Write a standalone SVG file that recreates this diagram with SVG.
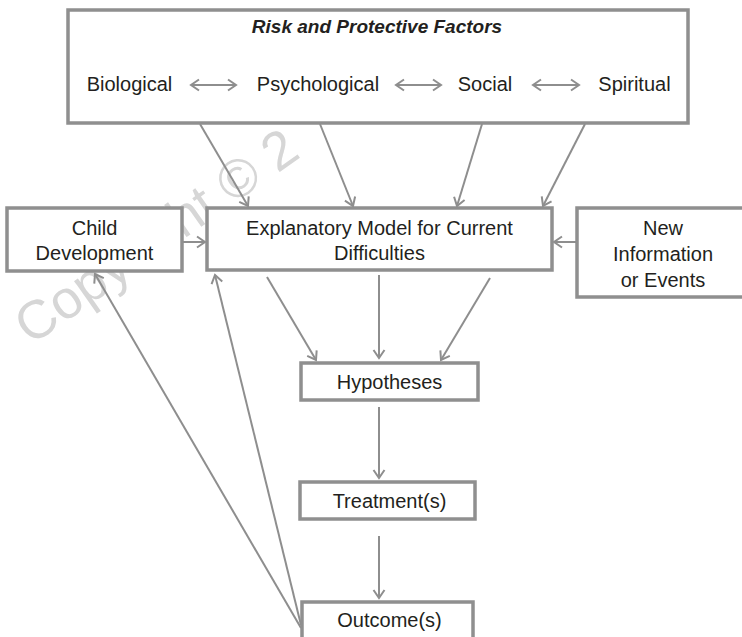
<svg xmlns="http://www.w3.org/2000/svg" width="742" height="637" viewBox="0 0 742 637">
  <defs>
    <marker id="ah" markerUnits="userSpaceOnUse" markerWidth="12" markerHeight="14" refX="9" refY="6" orient="auto-start-reverse" overflow="visible">
      <path d="M1,0.5 L9,6 L1,11.5" fill="none" stroke="#8e8e8e" stroke-width="2"/>
    </marker>
    <style>
      .box { fill: #ffffff; stroke: #8f8f8f; stroke-width: 3.5; }
      .lbl { font-family: "Liberation Sans", Arial, sans-serif; font-size: 20px; fill: #231f20; text-anchor: middle; }
      .title { font-family: "Liberation Sans", Arial, sans-serif; font-size: 19px; font-weight: bold; font-style: italic; fill: #231f20; text-anchor: middle; }
      .con { stroke: #8e8e8e; stroke-width: 2; fill: none; marker-end: url(#ah); }
      .dbl { stroke: #8e8e8e; stroke-width: 2; fill: none; marker-start: url(#ah); marker-end: url(#ah); }
      .wm { font-family: "Liberation Sans", Arial, sans-serif; font-size: 54px; fill: #d6d6d6; }
    </style>
  </defs>
  <rect width="742" height="637" fill="#ffffff"/>
  <text class="wm" transform="translate(31,346) rotate(-35)">Copyright © 2</text>

  <g id="connectors">
    <line class="con" x1="200" y1="124" x2="248" y2="206"/>
    <line class="con" x1="320" y1="124" x2="353" y2="206"/>
    <line class="con" x1="482" y1="124" x2="457" y2="206"/>
    <line class="con" x1="585" y1="124" x2="543" y2="206"/>
    <line class="con" x1="183" y1="242" x2="205" y2="242"/>
    <line class="con" x1="576" y1="242" x2="554" y2="242"/>
    <line class="con" x1="267" y1="277" x2="316" y2="360"/>
    <line class="con" x1="379" y1="275" x2="379" y2="358"/>
    <line class="con" x1="490" y1="278" x2="441" y2="360"/>
    <line class="con" x1="379" y1="407" x2="379" y2="478"/>
    <line class="con" x1="379" y1="536" x2="379" y2="598"/>
    <line class="con" x1="301" y1="628" x2="95" y2="274"/>
    <line class="con" x1="301" y1="625" x2="215" y2="275"/>
  </g>

  <g id="risk-factors">
    <rect class="box" x="68" y="10" width="620" height="113"/>
    <text class="title" x="377" y="33">Risk and Protective Factors</text>
    <text class="lbl" x="129.5" y="91">Biological</text>
    <text class="lbl" x="318" y="91">Psychological</text>
    <text class="lbl" x="485" y="91">Social</text>
    <text class="lbl" x="634.5" y="91">Spiritual</text>
    <line class="dbl" x1="191" y1="85" x2="236" y2="85"/>
    <line class="dbl" x1="396" y1="85" x2="441" y2="85"/>
    <line class="dbl" x1="533" y1="85" x2="579" y2="85"/>
  </g>

  <g id="child-development">
    <rect class="box" x="7" y="208" width="175" height="63"/>
    <text class="lbl" x="94.5" y="235">Child</text>
    <text class="lbl" x="94.5" y="260">Development</text>
  </g>

  <g id="explanatory-model">
    <rect class="box" x="207" y="208" width="345" height="62"/>
    <text class="lbl" x="379.5" y="235">Explanatory Model for Current</text>
    <text class="lbl" x="379.5" y="260">Difficulties</text>
  </g>

  <g id="new-information">
    <rect class="box" x="577" y="208" width="175" height="89"/>
    <text class="lbl" x="663" y="235">New</text>
    <text class="lbl" x="663" y="261">Information</text>
    <text class="lbl" x="663" y="287">or Events</text>
  </g>

  <g id="hypotheses">
    <rect class="box" x="301" y="363" width="177" height="37"/>
    <text class="lbl" x="389.5" y="389">Hypotheses</text>
  </g>

  <g id="treatments">
    <rect class="box" x="300" y="482" width="175" height="37"/>
    <text class="lbl" x="389.5" y="508">Treatment(s)</text>
  </g>

  <g id="outcomes">
    <rect class="box" x="302" y="602" width="171" height="40"/>
    <text class="lbl" x="389.5" y="627">Outcome(s)</text>
  </g>
</svg>
